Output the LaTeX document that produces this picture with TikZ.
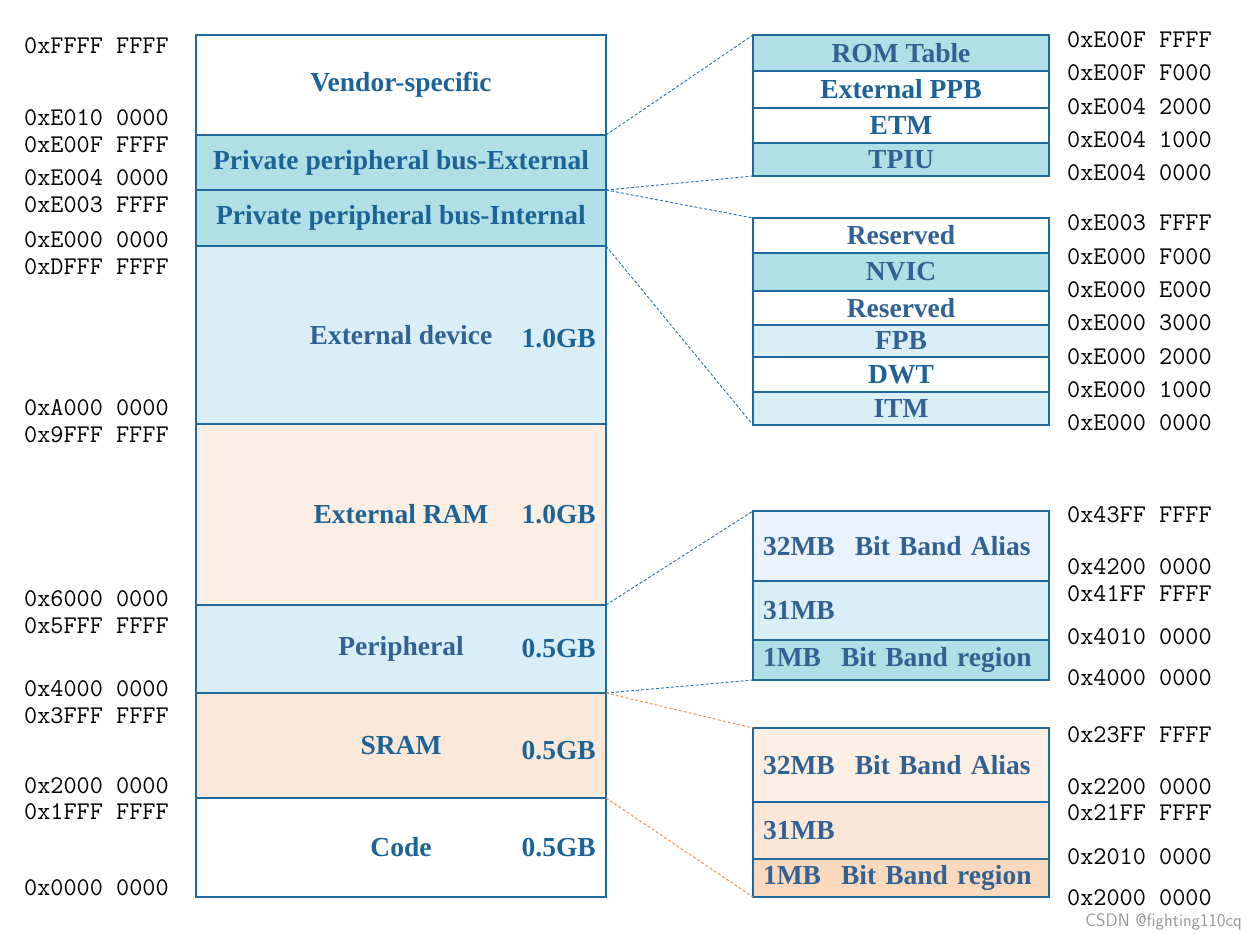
\documentclass[tikz,border=0pt]{standalone}
\usepackage{fontspec}
\setmainfont{Liberation Serif}
\usetikzlibrary{positioning}
\definecolor{ink}{RGB}{28,100,152}
\definecolor{inksoft}{RGB}{50,98,148}
\definecolor{edge}{RGB}{31,105,158}
\definecolor{tealfill}{RGB}{176,223,229}
\definecolor{skyfill}{RGB}{218,238,247}
\definecolor{ramfill}{RGB}{252,238,226}
\definecolor{sramfill}{RGB}{252,232,216}
\definecolor{aliasblue}{RGB}{234,243,253}
\definecolor{aliaspeach}{RGB}{253,239,228}
\definecolor{midpeach}{RGB}{251,230,215}
\definecolor{bandpeach}{RGB}{250,217,188}
\definecolor{linkblue}{RGB}{40,110,170}
\definecolor{linkorange}{RGB}{240,140,70}
\tikzset{
  region/.style={draw=edge,line width=1.8pt,outer sep=0pt,inner sep=0pt,minimum width=410pt,text=ink,font=\bfseries\fontsize{27.5}{30}\selectfont},
  part/.style={region,minimum width=296pt},
  bandpart/.style={part,text width=276pt,align=left,text=inksoft},
  gbtag/.style={inner sep=0pt,text=ink,font=\bfseries\fontsize{27.5}{30}\selectfont},
  addr/.style={anchor=west,inner sep=0pt,font=\ttfamily\fontsize{25.5}{28}\selectfont},
  zoomline/.style={draw=linkblue,line width=0.9pt,dash pattern=on 3pt off 2pt},
  zoomlinewarm/.style={zoomline,draw=linkorange},
}
\begin{document}
\begin{tikzpicture}[x=1pt,y=-1pt]
\useasboundingbox (0,0) rectangle (1257,934);
\node[region,fill=white,minimum height=100pt] (vendor) at (401,85) {Vendor-specific};
\node[region,fill=tealfill,minimum height=55pt,below=0pt of vendor] (ppbext) {Private peripheral bus-External};
\node[region,fill=tealfill,minimum height=56pt,below=0pt of ppbext] (ppbint) {Private peripheral bus-Internal};
\node[region,fill=skyfill,minimum height=178pt,below=0pt of ppbint,text=inksoft] (extdev) {External device};
\node[region,fill=ramfill,minimum height=181pt,below=0pt of extdev] (extram) {External RAM};
\node[region,fill=skyfill,minimum height=88pt,below=0pt of extram,text=inksoft] (periph) {Peripheral};
\node[region,fill=sramfill,minimum height=105pt,below=0pt of periph] (sram) {SRAM};
\node[region,fill=white,minimum height=99pt,below=0pt of sram] (code) {Code};
\node[gbtag,left=10pt of extdev.east,yshift=-4pt] (gbextdev) {1.0GB};
\node[gbtag,left=10pt of extram.east] (gbextram) {1.0GB};
\node[gbtag,left=10pt of periph.east] (gbperiph) {0.5GB};
\node[gbtag,left=10pt of sram.east,yshift=-5pt] (gbsram) {0.5GB};
\node[gbtag,left=10pt of code.east] (gbcode) {0.5GB};

\node[part,fill=tealfill,minimum height=36pt,text=inksoft] (rom) at (901,53) {ROM Table};
\node[part,fill=white,minimum height=37pt,below=0pt of rom] (extppb) {External PPB};
\node[part,fill=white,minimum height=35pt,below=0pt of extppb] (etm) {ETM};
\node[part,fill=tealfill,minimum height=33pt,below=0pt of etm,text=inksoft] (tpiu) {TPIU};

\node[part,fill=white,minimum height=35pt,text=inksoft] (resa) at (901,235.5) {Reserved};
\node[part,fill=tealfill,minimum height=38pt,below=0pt of resa,text=inksoft] (nvic) {NVIC};
\node[part,fill=white,minimum height=34pt,below=0pt of nvic,text=inksoft] (resb) {Reserved};
\node[part,fill=skyfill,minimum height=32pt,below=0pt of resb,text=inksoft] (fpb) {FPB};
\node[part,fill=white,minimum height=35pt,below=0pt of fpb] (dwt) {DWT};
\node[part,fill=skyfill,minimum height=33pt,below=0pt of dwt,text=inksoft] (itm) {ITM};

\node[bandpart,fill=aliasblue,minimum height=70pt] (aliasp) at (901,546) {32MB\hspace{20pt}Bit Band Alias};
\node[bandpart,fill=skyfill,minimum height=59pt,below=0pt of aliasp] (midp) {31MB};
\node[bandpart,fill=tealfill,minimum height=40pt,below=0pt of midp] (bandp) {1MB\hspace{20pt}Bit Band region};

\node[bandpart,fill=aliaspeach,minimum height=74pt] (aliass) at (901,765) {32MB\hspace{20pt}Bit Band Alias};
\node[bandpart,fill=midpeach,minimum height=57pt,below=0pt of aliass] (mids) {31MB};
\node[bandpart,fill=bandpeach,minimum height=38pt,below=0pt of mids] (bands) {1MB\hspace{20pt}Bit Band region};

\foreach \y/\t [count=\i] in {46/0xFFFF FFFF,118/0xE010 0000,145/0xE00F FFFF,178/0xE004 0000,205/0xE003 FFFF,240/0xE000 0000,267/0xDFFF FFFF,408/0xA000 0000,435/0x9FFF FFFF,599/0x6000 0000,626/0x5FFF FFFF,689/0x4000 0000,716/0x3FFF FFFF,786/0x2000 0000,812/0x1FFF FFFF,888/0x0000 0000}
  \node[addr] (la\i) at (24,\y) {\t};
\foreach \y/\t [count=\i] in {40/0xE00F FFFF,73/0xE00F F000,107/0xE004 2000,140/0xE004 1000,173/0xE004 0000,223/0xE003 FFFF,257/0xE000 F000,290/0xE000 E000,323/0xE000 3000,357/0xE000 2000,390/0xE000 1000,423/0xE000 0000,515/0x43FF FFFF,567/0x4200 0000,594/0x41FF FFFF,637/0x4010 0000,678/0x4000 0000,735/0x23FF FFFF,787/0x2200 0000,813/0x21FF FFFF,857/0x2010 0000,898/0x2000 0000}
  \node[addr] (ra\i) at (1067,\y) {\t};

\draw[zoomline] (vendor.south east) -- (rom.north west);
\draw[zoomline] (ppbext.south east) -- (tpiu.south west);
\draw[zoomline] (ppbext.south east) -- (resa.north west);
\draw[zoomline] (ppbint.south east) -- (itm.south west);
\draw[zoomline] (extram.south east) -- (aliasp.north west);
\draw[zoomline] (periph.south east) -- (bandp.south west);
\draw[zoomlinewarm] (periph.south east) -- (aliass.north west);
\draw[zoomlinewarm] (sram.south east) -- (bands.south west);

\node[anchor=east,inner sep=0pt,text=black!40,font=\sffamily\fontsize{18}{19}\selectfont] (mark) at (1242,922) {CSDN @fighting110cq};
\end{tikzpicture}
\end{document}
